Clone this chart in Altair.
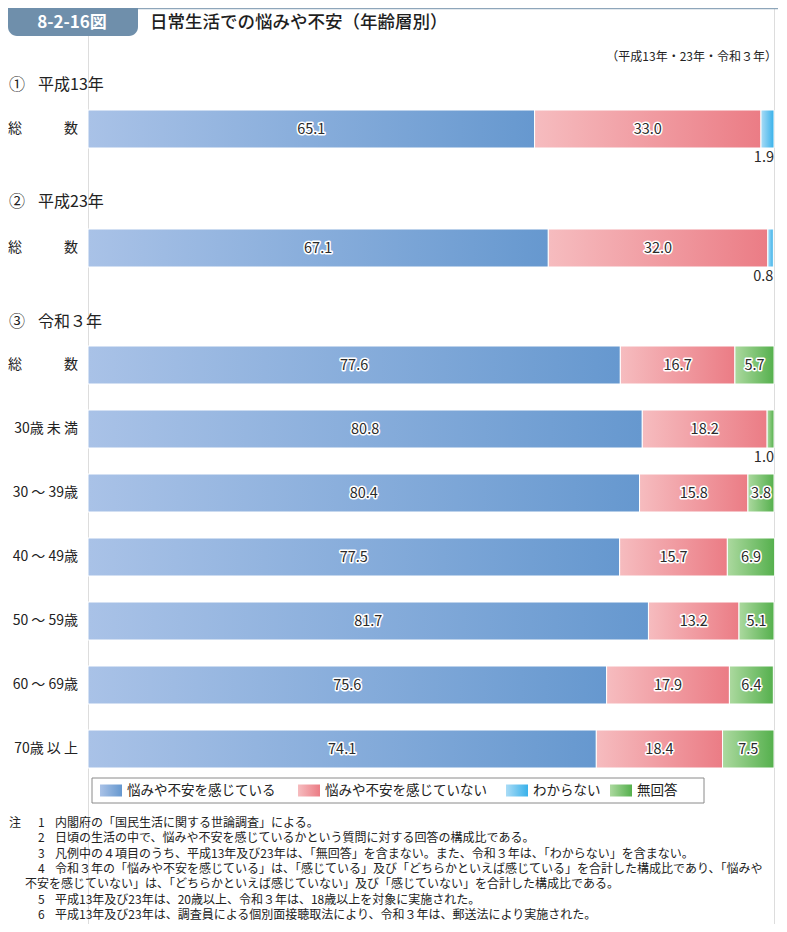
import altair as alt
import pandas as pd

# ---------------- data ----------------
categories = ["総　　　数", "総　　　数", "総　　　数", "30歳 未 満", "30 ～ 39歳",
              "40 ～ 49歳", "50 ～ 59歳", "60 ～ 69歳", "70歳 以 上"]
feel = [65.1, 67.1, 77.6, 80.8, 80.4, 77.5, 81.7, 75.6, 74.1]
not_feel = [33.0, 32.0, 16.7, 18.2, 15.8, 15.7, 13.2, 17.9, 18.4]
dont_know = [1.9, 0.8, None, None, None, None, None, None, None]
no_answer = [None, None, 5.7, 1.0, 3.8, 6.9, 5.1, 6.4, 7.5]
series_names = ["悩みや不安を感じている", "悩みや不安を感じていない", "わからない", "無回答"]
section_marks = ["①", "②", "③"]
section_titles = ["平成13年", "平成23年", "令和３年"]
fig_no = "8-2-16図"
title = "日常生活での悩みや不安（年齢層別）"
subtitle = "（平成13年・23年・令和３年）"
notes = [
    ("注", "1", "内閣府の「国民生活に関する世論調査」による。"),
    ("", "2", "日頃の生活の中で、悩みや不安を感じているかという質問に対する回答の構成比である。"),
    ("", "3", "凡例中の４項目のうち、平成13年及び23年は、「無回答」を含まない。また、令和３年は、「わからない」を含まない。"),
    ("", "4", "令和３年の「悩みや不安を感じている」は、「感じている」及び「どちらかといえば感じている」を合計した構成比であり、「悩みや"),
    ("", "", "不安を感じていない」は、「どちらかといえば感じていない」及び「感じていない」を合計した構成比である。"),
    ("", "5", "平成13年及び23年は、20歳以上、令和３年は、18歳以上を対象に実施された。"),
    ("", "6", "平成13年及び23年は、調査員による個別面接聴取法により、令和３年は、郵送法により実施された。"),
]

# ---------------- layout ----------------
FONT = "Noto Sans CJK JP"
W, H = 686, 916
X0, Y0 = 88, 8           # page position of plot origin
row_centers = [129, 248, 365, 429, 493, 557, 621, 685, 749]
section_y = [85, 202, 322]
BAR_H = 38

def dx(xp):  # page px -> data x
    return (xp - X0) / W * 100.0

def dy(yp):  # page px -> data y
    return yp - Y0

grad_stops = [
    ("#a9c2e7", "#6698cf"),
    ("#f6bcbf", "#eb7c85"),
    ("#aadcf6", "#38b1ea"),
    ("#acd99f", "#55b04d"),
]

def grad(c1, c2):
    return alt.Gradient(gradient="linear",
                        stops=[alt.GradientStop(color=c1, offset=0),
                               alt.GradientStop(color=c2, offset=1)],
                        x1=0, x2=1, y1=0, y2=0)

xs = alt.Scale(domain=[0, 100], nice=False, zero=False)
ys = alt.Scale(domain=[0, H], range=[0, H], nice=False, zero=False)
X = lambda f: alt.X(f, scale=xs, axis=None)
Y = lambda f: alt.Y(f, scale=ys, axis=None)

# segments
seg_rows = []
lab_in, lab_out = [], []
all_series = [feel, not_feel, dont_know, no_answer]
for i in range(len(categories)):
    start = 0.0
    yc = dy(row_centers[i])
    for s, vals in enumerate(all_series):
        v = vals[i]
        if v is None:
            continue
        seg_rows.append(dict(series=s, start=start, end=start + v,
                             y0=yc - BAR_H / 2, y1=yc + BAR_H / 2))
        if v < 2:
            lab_out.append(dict(x=min(start + v, 100), y=yc + 29, t=f"{v:.1f}"))
        else:
            lab_in.append(dict(x=start + v / 2, y=yc + 1, t=f"{v:.1f}"))
        start += v
seg = pd.DataFrame(seg_rows)

def rect_layer(df, **mk):
    return alt.Chart(df).mark_rect(**mk).encode(
        x=X("start:Q"), x2="end:Q", y=Y("y0:Q"), y2="y1:Q")

def box(x1, x2, y1, y2):
    return pd.DataFrame([dict(start=dx(x1), end=dx(x2), y0=dy(y1), y1=dy(y2))])

layers = []
for s in range(4):
    d = seg[seg.series == s]
    layers.append(rect_layer(d, fill=grad(*grad_stops[s]), stroke="white", strokeWidth=1))

din = pd.DataFrame(lab_in)
layers.append(alt.Chart(din).mark_text(font=FONT, fontSize=14.5, fill="white", stroke="white",
                                       strokeWidth=3, strokeJoin="round").encode(
    x=X("x:Q"), y=Y("y:Q"), text="t:N"))
layers.append(alt.Chart(din).mark_text(font=FONT, fontSize=14.5, color="#2a2a2a").encode(
    x=X("x:Q"), y=Y("y:Q"), text="t:N"))
layers.append(alt.Chart(pd.DataFrame(lab_out)).mark_text(font=FONT, fontSize=14.5, color="#2a2a2a",
                                                         align="right").encode(
    x=X("x:Q"), y=Y("y:Q"), text="t:N"))

def txt(rows, size, align="left", color="#222", weight="normal", baseline="middle"):
    return alt.Chart(pd.DataFrame(rows)).mark_text(
        font=FONT, fontSize=size, align=align, color=color, fontWeight=weight,
        baseline=baseline).encode(x=X("x:Q"), y=Y("y:Q"), text="t:N")

# row labels
layers.append(txt([dict(x=dx(78), y=dy(c), t=t) for c, t in zip(row_centers, categories)],
                  14, align="right"))
# section headers
layers.append(txt([dict(x=dx(9), y=dy(y), t=t) for y, t in zip(section_y, section_marks)], 16))
layers.append(txt([dict(x=dx(38), y=dy(y), t=t) for y, t in zip(section_y, section_titles)], 16))
# subtitle
layers.append(txt([dict(x=dx(777), y=dy(57), t=subtitle)], 12, align="right"))

# title tab
top_line = pd.DataFrame([dict(start=dx(8), end=dx(778), y0=dy(8.5))])
layers.append(alt.Chart(top_line).mark_rule(color="#8ea6ba", strokeWidth=1.5).encode(
    x=X("start:Q"), x2="end:Q", y=Y("y0:Q")))
layers.append(rect_layer(box(8, 138, 8, 36), fill="#6f8fab", cornerRadiusBottomLeft=9,
                         cornerRadiusBottomRight=9))
layers.append(txt([dict(x=dx(72), y=dy(22.5), t=fig_no)], 17, align="center", color="white",
                  weight="bold"))
layers.append(txt([dict(x=dx(150), y=dy(23), t=title)], 17.5, color="#1e1e1e", weight=500))

# legend
layers.append(rect_layer(box(92, 704, 778, 803), fill="white", stroke="#8a8a8a", strokeWidth=1))
leg_x = [100, 298, 506, 610]
for s in range(4):
    layers.append(rect_layer(box(leg_x[s], leg_x[s] + 22, 784.5, 796.5),
                             fill=grad(*grad_stops[s])))
layers.append(txt([dict(x=dx(leg_x[s] + 27), y=dy(790.5), t=series_names[s]) for s in range(4)],
                  13.5))

# notes
note_y = [823, 838.3, 853.6, 868.9, 884.2, 899.5, 914.8]
rows_a, rows_b, rows_c = [], [], []
for (a, b, c), y in zip(notes, note_y):
    if a:
        rows_a.append(dict(x=dx(9), y=dy(y), t=a))
    if b:
        rows_b.append(dict(x=dx(38), y=dy(y), t=b))
        rows_c.append(dict(x=dx(55), y=dy(y), t=c))
    else:
        rows_c.append(dict(x=dx(25), y=dy(y), t=c))
layers.append(txt(rows_a, 12))
layers.append(txt(rows_b, 12))
layers.append(txt(rows_c, 12))

chart = alt.layer(*layers).properties(
    width=W, height=H,
    autosize=alt.AutoSizeParams(type="none"),
    padding={"left": X0 - 8, "top": 0, "right": 787 - 16 - (X0 - 8) - W, "bottom": 0},
).configure_view(stroke=None).configure(font=FONT)

chart.save("out.html", embed_options={"renderer": "svg", "actions": False})
